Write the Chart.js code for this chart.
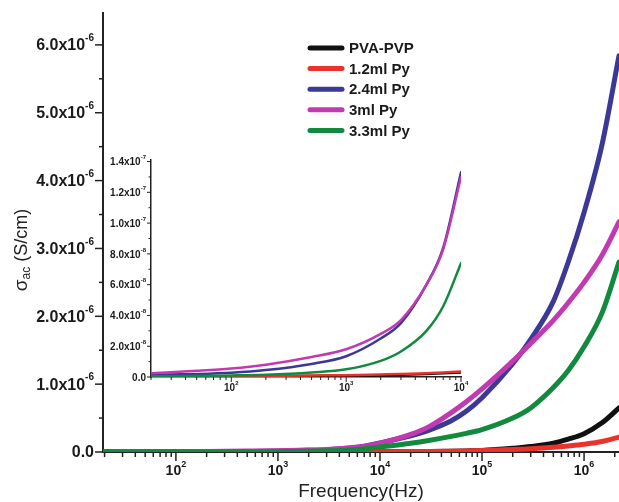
<!DOCTYPE html>
<html><head><meta charset="utf-8">
<script src="https://cdn.jsdelivr.net/npm/chart.js@4/dist/chart.umd.min.js"></script>
<style>
html,body{margin:0;padding:0;background:#fff;}
#wrap{position:relative;width:619px;height:502px;overflow:hidden;}
#wrap canvas{position:absolute;left:0;top:0;}
</style></head><body>
<div id="wrap"><canvas id="main" width="619" height="502"></canvas><canvas id="inset" width="619" height="502"></canvas></div>
<script>
// ---------- data (conductivity in S/cm) ----------
const freqHz  = [20, 50, 100, 200, 500, 1e3, 2e3, 3e3, 5e3, 7e3, 1e4, 2e4, 3e4, 5e4, 7e4, 1e5, 2e5, 3e5, 5e5, 7e5, 1e6, 1.5e6, 2.2e6];
const seriesNames = ['PVA-PVP', '1.2ml Py', '2.4ml Py', '3ml Py', '3.3ml Py'];
const pvaPvp = [1e-10, 2e-10, 3e-10, 4e-10, 6e-10, 8e-10, 1.2e-9, 1.5e-9, 2e-9, 2.5e-9, 3e-9, 5e-9, 7e-9, 1.1e-8, 1.6e-8, 2.3e-8, 5.5e-8, 8e-8, 1.3e-7, 1.9e-7, 2.7e-7, 4.3e-7, 6.5e-7];
const py12   = [3e-10, 4e-10, 5e-10, 7e-10, 1e-9, 1.2e-9, 1.7e-9, 2.0e-9, 2.5e-9, 3e-9, 3.5e-9, 6e-9, 8e-9, 1.2e-8, 1.6e-8, 2.1e-8, 3.6e-8, 4.8e-8, 7e-8, 9e-8, 1.15e-7, 1.55e-7, 2.2e-7];
const py24   = [1.5e-9, 2e-9, 2.8e-9, 4.5e-9, 8.5e-9, 1.35e-8, 2.5e-8, 3.5e-8, 6.0e-8, 8.4e-8, 1.33e-7, 2.4e-7, 3.2e-7, 4.6e-7, 6.0e-7, 8.0e-7, 1.30e-6, 1.66e-6, 2.22e-6, 2.8e-6, 3.53e-6, 4.53e-6, 5.84e-6];
const py30   = [2.5e-9, 4e-9, 5.5e-9, 8e-9, 1.3e-8, 1.8e-8, 2.8e-8, 3.7e-8, 6.0e-8, 8.3e-8, 1.30e-7, 2.6e-7, 3.7e-7, 5.8e-7, 7.4e-7, 9.3e-7, 1.34e-6, 1.60e-6, 1.94e-6, 2.2e-6, 2.5e-6, 2.9e-6, 3.39e-6];
const py33   = [5e-10, 7e-10, 1e-9, 1.5e-9, 3e-9, 5e-9, 1.05e-8, 1.66e-8, 3.0e-8, 4.6e-8, 7.4e-8, 1.3e-7, 1.7e-7, 2.3e-7, 2.75e-7, 3.3e-7, 5.0e-7, 6.5e-7, 9.5e-7, 1.2e-6, 1.55e-6, 2.05e-6, 2.8e-6];
const seriesValues = [pvaPvp, py12, py24, py30, py33];
const seriesColors = ['#111111', '#e8322b', '#3c3896', '#c13ab0', '#128a3e'];
const drawOrder = [4, 3, 2, 1, 0];

// tick labels
const mainXTicks  = [1e2, 1e3, 1e4, 1e5, 1e6];
const mainYTicks  = [0, 1e-6, 2e-6, 3e-6, 4e-6, 5e-6, 6e-6];
const insetXTicks = [1e2, 1e3, 1e4];
const insetYTicks = [0, 2e-8, 4e-8, 6e-8, 8e-8, 1e-7, 1.2e-7, 1.4e-7];

const FONT = '"Liberation Sans", Arial, sans-serif';

function sciParts(v) {
  if (v === 0) return ['0.0', ''];
  const e = Math.floor(Math.log10(v) + 1e-9);
  const m = v / Math.pow(10, e);
  return [m.toFixed(1) + 'x10', String(e)];
}

function buildDatasets(maxF, lw) {
  return seriesNames.map((name, i) => ({
    label: name,
    data: freqHz.map((f, k) => ({x: f, y: seriesValues[i][k]})).filter(p => p.x <= maxF),
    borderColor: seriesColors[i],
    backgroundColor: seriesColors[i],
    borderWidth: lw,
    pointRadius: 0,
    cubicInterpolationMode: 'monotone',
    borderCapStyle: 'round',
    fill: false,
    order: drawOrder[i]
  }));
}

function logMinor(min, max) {
  const out = [];
  for (let e = Math.floor(Math.log10(min)); e <= Math.ceil(Math.log10(max)); e++) {
    for (let m = 1; m <= 9; m++) {
      const v = m * Math.pow(10, e);
      if (v >= min * 0.999 && v <= max * 1.001) out.push({v, major: m === 1});
    }
  }
  return out;
}

const decoPlugin = {
  id: 'deco',
  afterDraw(chart, args, o) {
    const ctx = chart.ctx, xs = chart.scales.x, ys = chart.scales.y, a = chart.chartArea;
    ctx.save();
    ctx.strokeStyle = '#222';
    ctx.lineWidth = o.tickWidth;
    logMinor(xs.min, xs.max).forEach(t => {
      const px = xs.getPixelForValue(t.v);
      const len = t.major ? o.xMajor : o.xMinor;
      ctx.beginPath(); ctx.moveTo(px, a.bottom); ctx.lineTo(px, a.bottom + len); ctx.stroke();
    });
    for (let v = 0; v <= ys.max * 1.0001; v += o.yMinorStep) {
      const py = ys.getPixelForValue(v);
      const isMajor = Math.abs(v / o.yMajorStep - Math.round(v / o.yMajorStep)) < 1e-6;
      const len = isMajor ? o.yMajor : o.yMinor;
      ctx.beginPath(); ctx.moveTo(a.left, py); ctx.lineTo(a.left - len, py); ctx.stroke();
    }
    ctx.fillStyle = '#1a1a1a';
    o.yTicks.forEach(v => {
      const [base, exp] = sciParts(v);
      const py = ys.getPixelForValue(v);
      ctx.font = 'bold ' + o.yFont + 'px ' + FONT;
      const bw = ctx.measureText(base).width;
      ctx.font = 'bold ' + o.ySup + 'px ' + FONT;
      const ew = exp ? ctx.measureText(exp).width : 0;
      const x0 = a.left - o.yLabelGap - bw - ew;
      ctx.textBaseline = 'middle'; ctx.textAlign = 'left';
      ctx.font = 'bold ' + o.yFont + 'px ' + FONT;
      ctx.fillText(base, x0, py + 1);
      if (exp) {
        ctx.font = 'bold ' + o.ySup + 'px ' + FONT;
        ctx.fillText(exp, x0 + bw, py - o.yFont * 0.4);
      }
    });
    o.xTicks.forEach(v => {
      const px = xs.getPixelForValue(v);
      const exp = String(Math.round(Math.log10(v)));
      ctx.font = 'bold ' + o.xFont + 'px ' + FONT;
      const bw = ctx.measureText('10').width;
      ctx.font = 'bold ' + o.xSup + 'px ' + FONT;
      const ew = ctx.measureText(exp).width;
      const x0 = px - (bw + ew) / 2;
      ctx.textBaseline = 'middle'; ctx.textAlign = 'left';
      ctx.font = 'bold ' + o.xFont + 'px ' + FONT;
      ctx.fillText('10', x0, a.bottom + o.xLabelY);
      ctx.font = 'bold ' + o.xSup + 'px ' + FONT;
      ctx.fillText(exp, x0 + bw, a.bottom + o.xLabelY - o.xFont * 0.45);
    });
    if (o.titles) {
      ctx.font = '19px ' + FONT;
      ctx.textAlign = 'center'; ctx.textBaseline = 'alphabetic';
      ctx.fillStyle = '#222';
      ctx.fillText('Frequency(Hz)', (a.left + a.right) / 2, 497);
      ctx.save();
      ctx.translate(27, 250);
      ctx.rotate(-Math.PI / 2);
      ctx.textAlign = 'left'; ctx.textBaseline = 'alphabetic';
      ctx.font = '19px ' + FONT; const w1 = ctx.measureText('σ').width;
      ctx.font = '12px ' + FONT; const w2 = ctx.measureText('ac').width;
      ctx.font = '18px ' + FONT; const w3 = ctx.measureText(' (S/cm)').width;
      let x = -(w1 + w2 + w3) / 2;
      ctx.font = '19px ' + FONT; ctx.fillText('σ', x, 0); x += w1;
      ctx.font = '12px ' + FONT; ctx.fillText('ac', x, 3); x += w2;
      ctx.font = '18px ' + FONT; ctx.fillText(' (S/cm)', x, 0);
      ctx.restore();
      chart.data.datasets.forEach((ds, i) => {
        const y = 48 + i * 20.6;
        ctx.strokeStyle = ds.borderColor; ctx.lineWidth = 5; ctx.lineCap = 'round';
        ctx.beginPath(); ctx.moveTo(310, y); ctx.lineTo(342, y); ctx.stroke();
        ctx.fillStyle = '#1a1a1a';
        ctx.font = 'bold 15px ' + FONT;
        ctx.textAlign = 'left'; ctx.textBaseline = 'middle';
        ctx.fillText(ds.label, 349, y + 1);
      });
    }
    ctx.restore();
  }
};

function scales(xmin, xmax, ymax, yW, xH, bw) {
  return {
    x: {type: 'logarithmic', min: xmin, max: xmax,
        grid: {display: false}, ticks: {display: false},
        border: {display: true, color: '#222', width: bw},
        afterFit: s => { s.height = xH; }},
    y: {type: 'linear', min: 0, max: ymax,
        grid: {display: false}, ticks: {display: false},
        border: {display: true, color: '#222', width: bw},
        afterFit: s => { s.width = yW; }}
  };
}

new Chart(document.getElementById('main'), {
  type: 'line',
  data: {datasets: buildDatasets(Infinity, 5)},
  options: {
    responsive: false, animation: false, events: [],
    layout: {padding: {left: 0, top: 13, right: 0, bottom: 0}},
    scales: scales(19.3, 2.2e6, 6.47e-6, 103, 50, 2),
    plugins: {legend: {display: false}, tooltip: {enabled: false},
      deco: {tickWidth: 1.5, xMajor: 9, xMinor: 5, yMajor: 8, yMinor: 4,
             yMinorStep: 0.5e-6, yMajorStep: 1e-6, yTicks: mainYTicks, xTicks: mainXTicks,
             yFont: 16, ySup: 10, yLabelGap: 9, xFont: 14, xSup: 9, xLabelY: 19, titles: true}}
  },
  plugins: [decoPlugin]
});

new Chart(document.getElementById('inset'), {
  type: 'line',
  data: {datasets: buildDatasets(1e4, 2.5)},
  options: {
    responsive: false, animation: false, events: [],
    layout: {padding: {left: 111, top: 160, right: 158, bottom: 105}},
    scales: scales(20, 1e4, 1.41e-7, 40, 20, 1.5),
    plugins: {legend: {display: false}, tooltip: {enabled: false},
      deco: {tickWidth: 1, xMajor: 5, xMinor: 3, yMajor: 4, yMinor: 2.5,
             yMinorStep: 1e-8, yMajorStep: 2e-8, yTicks: insetYTicks, xTicks: insetXTicks,
             yFont: 10, ySup: 6, yLabelGap: 5, xFont: 10, xSup: 6, xLabelY: 11, titles: false}}
  },
  plugins: [decoPlugin]
});
</script>
</body></html>
